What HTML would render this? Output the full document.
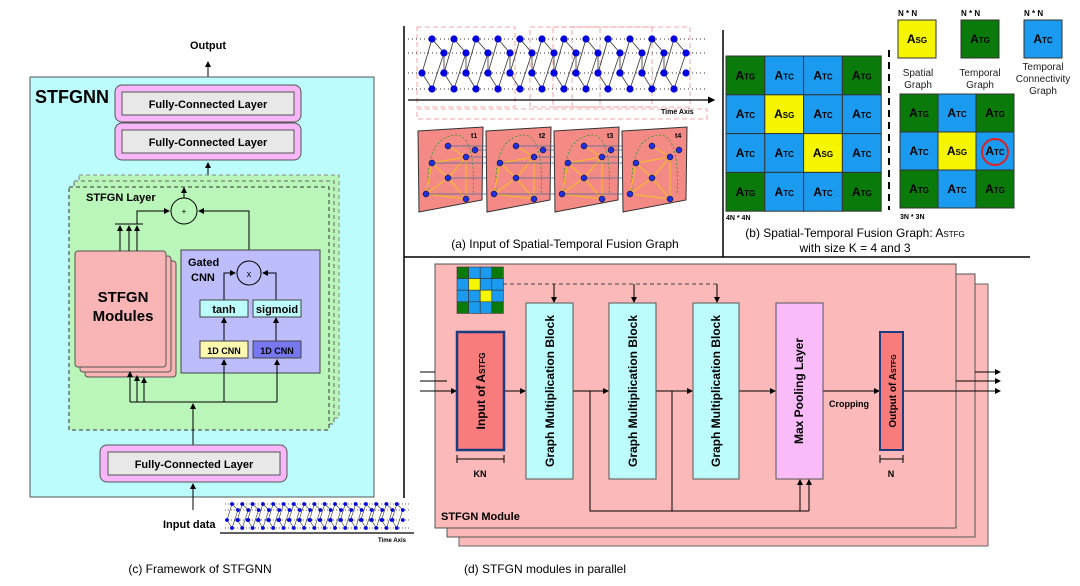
<!DOCTYPE html>
<html><head><meta charset="utf-8"><style>
body{margin:0;background:#fff}
svg{display:block;font-family:"Liberation Sans",sans-serif}
.b{font-weight:bold}
</style></head><body>
<svg id="s" width="1080" height="586" viewBox="0 0 1080 586" xmlns="http://www.w3.org/2000/svg">
<defs>
<marker id="a" markerWidth="6" markerHeight="6" refX="5" refY="3" orient="auto"><path d="M0,0 L6,3 L0,6 z" fill="#000"/></marker>
</defs>
<!-- ===== Panel c ===== -->
<text x="208" y="49" font-size="11" class="b" text-anchor="middle">Output</text>
<line x1="208" y1="77" x2="208" y2="62" stroke="#000" marker-end="url(#a)"/>
<rect x="30" y="77" width="344" height="420" fill="#bdfcfc" stroke="#555"/>
<text x="35" y="103" font-size="18" class="b">STFGNN</text>
<rect x="115" y="85" width="186" height="37" rx="7" fill="#f7b6f7" stroke="#555"/>
<rect x="122" y="92" width="172" height="23" fill="#e8e8e8" stroke="#555"/>
<text x="208" y="108" font-size="11" class="b" text-anchor="middle">Fully-Connected Layer</text>
<rect x="115" y="123" width="186" height="37" rx="7" fill="#f7b6f7" stroke="#555"/>
<rect x="122" y="130" width="172" height="23" fill="#e8e8e8" stroke="#555"/>
<text x="208" y="146" font-size="11" class="b" text-anchor="middle">Fully-Connected Layer</text>
<line x1="208" y1="176" x2="208" y2="163" stroke="#000" marker-end="url(#a)"/>
<rect x="79" y="175" width="260" height="243" fill="#baf5ba" stroke="#888" stroke-dasharray="4,3"/>
<rect x="74" y="181" width="260" height="243" fill="#baf5ba" stroke="#666" stroke-dasharray="4,3"/>
<rect x="69" y="187" width="260" height="243" fill="#baf5ba" stroke="#333" stroke-dasharray="4,3"/>
<text x="86" y="201" font-size="11" class="b">STFGN Layer</text>
<circle cx="184" cy="211" r="13" fill="none" stroke="#000"/>
<text x="184" y="214" font-size="8" text-anchor="middle">+</text>
<line x1="184" y1="198" x2="184" y2="188" stroke="#000" marker-end="url(#a)"/>
<rect x="85" y="261" width="91" height="116" rx="3" fill="#f9b5b5" stroke="#555"/>
<rect x="80" y="256" width="91" height="116" rx="3" fill="#f9b5b5" stroke="#555"/>
<rect x="75" y="251" width="91" height="116" rx="3" fill="#f9b5b5" stroke="#555"/>
<text x="123" y="302" font-size="15" class="b" text-anchor="middle">STFGN</text>
<text x="123" y="321" font-size="15" class="b" text-anchor="middle">Modules</text>
<g stroke="#000" fill="none">
<line x1="115" y1="224" x2="143" y2="224"/>
<line x1="120" y1="251" x2="120" y2="226" marker-end="url(#a)"/>
<line x1="129" y1="251" x2="129" y2="226" marker-end="url(#a)"/>
<line x1="137" y1="251" x2="137" y2="226" marker-end="url(#a)"/>
<polyline points="137,224 137,211 169,211" marker-end="url(#a)"/>
<polyline points="249,261 249,211 199,211" marker-end="url(#a)"/>
</g>
<rect x="181" y="250" width="139" height="123" fill="#bdbdfb" stroke="#444"/>
<text x="188" y="266" font-size="11" class="b">Gated</text>
<text x="191" y="281" font-size="11" class="b">CNN</text>
<circle cx="249" cy="273" r="12" fill="#bdbdfb" stroke="#000"/>
<text x="249" y="277" font-size="9" text-anchor="middle">x</text>
<g stroke="#000" fill="none">
<polyline points="224,300 224,273 235,273" marker-end="url(#a)"/>
<polyline points="276,300 276,273 263,273" marker-end="url(#a)"/>
<line x1="224" y1="341" x2="224" y2="318" marker-end="url(#a)"/>
<line x1="276" y1="341" x2="276" y2="318" marker-end="url(#a)"/>
</g>
<rect x="200" y="300" width="48" height="17" fill="#bdfcfc" stroke="#444"/>
<text x="224" y="313" font-size="11" class="b" text-anchor="middle">tanh</text>
<rect x="253" y="300" width="48" height="17" fill="#bdfcfc" stroke="#444"/>
<text x="277" y="313" font-size="11" class="b" text-anchor="middle">sigmoid</text>
<rect x="200" y="341" width="48" height="17" fill="#fdf8b0" stroke="#444"/>
<text x="224" y="354" font-size="9" class="b" text-anchor="middle">1D CNN</text>
<rect x="253" y="341" width="48" height="17" fill="#7777f0" stroke="#444"/>
<text x="277" y="354" font-size="9" class="b" text-anchor="middle">1D CNN</text>
<g stroke="#000" fill="none">
<polyline points="130,402 277,402"/>
<line x1="130" y1="402" x2="130" y2="372" marker-end="url(#a)"/>
<line x1="137" y1="402" x2="137" y2="376" marker-end="url(#a)"/>
<line x1="144" y1="402" x2="144" y2="378" marker-end="url(#a)"/>
<line x1="224" y1="402" x2="224" y2="360" marker-end="url(#a)"/>
<line x1="277" y1="402" x2="277" y2="360" marker-end="url(#a)"/>
<line x1="193" y1="445" x2="193" y2="404" marker-end="url(#a)"/>
<line x1="193" y1="510" x2="193" y2="484" marker-end="url(#a)"/>
</g>
<rect x="100" y="445" width="187" height="37" rx="7" fill="#f7b6f7" stroke="#555"/>
<rect x="108" y="452" width="172" height="23" fill="#e8e8e8" stroke="#555"/>
<text x="194" y="468" font-size="11" class="b" text-anchor="middle">Fully-Connected Layer</text>
<text x="163" y="528" font-size="11" class="b">Input data</text>
<g id="ts"></g>
<line x1="220" y1="533" x2="414" y2="533" stroke="#000" stroke-width="1.2"/>
<text x="378" y="542" font-size="6" class="b">Time Axis</text>
<text x="200" y="573" font-size="12" text-anchor="middle">(c) Framework of STFGNN</text>
<!-- separators -->
<line x1="404" y1="26" x2="404" y2="498" stroke="#000" stroke-width="1.5"/>
<line x1="404" y1="257" x2="1030" y2="257" stroke="#000" stroke-width="1.5"/>
<line x1="723" y1="30" x2="723" y2="257" stroke="#000" stroke-width="1.5"/>
<!-- ===== Panel a ===== -->
<g stroke="#f09090" fill="none" stroke-dasharray="5,3" stroke-width="0.8">
<rect x="417" y="27" width="98" height="80"/><rect x="530" y="27" width="160" height="80"/>
<rect x="553" y="27" width="47" height="80"/><rect x="572" y="27" width="80" height="80"/>
<rect x="417" y="109" width="290" height="10"/>
</g>
<g id="ta"></g>
<line x1="408" y1="100" x2="714" y2="100" stroke="#000" stroke-width="1.2" marker-end="url(#a)"/>
<text x="661" y="114" font-size="7" class="b">Time Axis</text>
<g id="fr"></g>
<text x="565" y="248" font-size="12" text-anchor="middle">(a) Input of Spatial-Temporal Fusion Graph</text>
<!-- ===== Panel b ===== -->
<g id="gb"></g>
<line x1="889" y1="50" x2="889" y2="210" stroke="#000" stroke-width="2" stroke-dasharray="7,5"/>
<circle cx="995" cy="152" r="13" fill="none" stroke="#e02020" stroke-width="2"/>
<text x="726" y="220" font-size="7" class="b">4N * 4N</text>
<text x="900" y="219" font-size="7" class="b">3N * 3N</text>
<text x="898" y="16" font-size="8" class="b">N * N</text>
<text x="961" y="16" font-size="8" class="b">N * N</text>
<text x="1024" y="16" font-size="8" class="b">N * N</text>
<text x="918" y="76" font-size="10" text-anchor="middle" fill="#222">Spatial</text>
<text x="918" y="88" font-size="10" text-anchor="middle" fill="#222">Graph</text>
<text x="980" y="76" font-size="10" text-anchor="middle" fill="#222">Temporal</text>
<text x="980" y="88" font-size="10" text-anchor="middle" fill="#222">Graph</text>
<text x="1043" y="70" font-size="10" text-anchor="middle" fill="#222">Temporal</text>
<text x="1043" y="82" font-size="10" text-anchor="middle" fill="#222">Connectivity</text>
<text x="1043" y="94" font-size="10" text-anchor="middle" fill="#222">Graph</text>
<text x="855" y="237" font-size="12" text-anchor="middle">(b) Spatial-Temporal Fusion Graph: A<tspan font-size="8">STFG</tspan></text>
<text x="855" y="252" font-size="12" text-anchor="middle">with size K = 4 and 3</text>
<!-- ===== Panel d ===== -->
<rect x="459" y="284" width="529" height="262" fill="#fcb9b9" stroke="#666"/>
<rect x="447" y="274" width="528" height="263" fill="#fcb9b9" stroke="#555"/>
<rect x="435" y="264" width="521" height="264" fill="#fcb9b9" stroke="#555"/>
<g id="gd"></g>
<g stroke="#000" fill="none">
<path d="M503,284 H717" stroke-dasharray="4,3" stroke="#444"/>
<line x1="554" y1="284" x2="554" y2="302" marker-end="url(#a)"/>
<line x1="634" y1="284" x2="634" y2="302" marker-end="url(#a)"/>
<line x1="717" y1="284" x2="717" y2="302" marker-end="url(#a)"/>
<line x1="420" y1="372" x2="435" y2="372"/><line x1="420" y1="381" x2="447" y2="381"/>
<line x1="420" y1="391" x2="456" y2="391" marker-end="url(#a)"/>
<line x1="504" y1="391" x2="525" y2="391" marker-end="url(#a)"/>
<line x1="573" y1="391" x2="608" y2="391" marker-end="url(#a)"/>
<line x1="656" y1="391" x2="692" y2="391" marker-end="url(#a)"/>
<line x1="739" y1="391" x2="775" y2="391" marker-end="url(#a)"/>
<line x1="823" y1="391" x2="879" y2="391" marker-end="url(#a)"/>
<polyline points="590,391 590,511 809,511"/>
<line x1="672" y1="391" x2="672" y2="511"/>
<line x1="800" y1="511" x2="800" y2="480" marker-end="url(#a)"/>
<line x1="809" y1="511" x2="809" y2="480" marker-end="url(#a)"/>
<line x1="903" y1="391" x2="1000" y2="391" marker-end="url(#a)"/>
<line x1="956" y1="381" x2="1000" y2="381" marker-end="url(#a)"/>
<line x1="975" y1="372" x2="1000" y2="372" marker-end="url(#a)"/>
<line x1="457" y1="459" x2="504" y2="459"/><line x1="457" y1="455" x2="457" y2="463"/><line x1="504" y1="455" x2="504" y2="463"/>
<line x1="880" y1="459" x2="903" y2="459"/><line x1="880" y1="455" x2="880" y2="463"/><line x1="903" y1="455" x2="903" y2="463"/>
</g>
<rect x="457" y="332" width="47" height="118" fill="#f87c7c" stroke="#1a3c80" stroke-width="2.5"/>
<rect x="880" y="332" width="23" height="118" fill="#f87c7c" stroke="#1a3c80" stroke-width="2"/>
<rect x="526" y="303" width="47" height="176" fill="#bdfcfc" stroke="#555"/>
<rect x="609" y="303" width="47" height="176" fill="#bdfcfc" stroke="#555"/>
<rect x="693" y="303" width="46" height="176" fill="#bdfcfc" stroke="#555"/>
<rect x="776" y="303" width="47" height="176" fill="#f9bcf9" stroke="#555"/>
<g font-size="12" class="b" text-anchor="middle">
<text transform="translate(485,391) rotate(-90)">Input of A<tspan font-size="8">STFG</tspan></text>
<text transform="translate(554,391) rotate(-90)">Graph Multiplication Block</text>
<text transform="translate(637,391) rotate(-90)">Graph Multiplication Block</text>
<text transform="translate(720,391) rotate(-90)">Graph Multiplication Block</text>
<text transform="translate(803,391) rotate(-90)">Max Pooling Layer</text>
<text transform="translate(896,391) rotate(-90)" font-size="10">Output of A<tspan font-size="7">STFG</tspan></text>
</g>
<text x="849" y="407" font-size="9" class="b" text-anchor="middle">Cropping</text>
<text x="480" y="477" font-size="9" class="b" text-anchor="middle">KN</text>
<text x="891" y="477" font-size="9" class="b" text-anchor="middle">N</text>
<text x="441" y="520" font-size="11" class="b">STFGN Module</text>
<text x="545" y="573" font-size="12" text-anchor="middle">(d) STFGN modules in parallel</text>
</svg>
<script>
var NS="http://www.w3.org/2000/svg";
function el(p,t,a){var e=document.createElementNS(NS,t);for(var k in a)e.setAttribute(k,a[k]);p.appendChild(e);return e;}
var G="#0a7a0a",B="#1a9bf0",Y="#f5f500";
function grid(p,x,y,c,m,lab){for(var i=0;i<m.length;i++)for(var j=0;j<m[i].length;j++){var v=m[i][j];var f=v=="G"?G:v=="Y"?Y:B;el(p,"rect",{x:x+j*c,y:y+i*c,width:c,height:c,fill:f,stroke:"#333","stroke-width":lab?1:0.6});if(lab){var t=el(p,"text",{x:x+j*c+c/2,y:y+i*c+c/2+4,"font-size":12,"font-weight":"bold","text-anchor":"middle"});t.textContent="A";var s=el(t,"tspan",{"font-size":8});s.textContent=v=="G"?"TG":v=="Y"?"SG":"TC";}}}
var gb=document.getElementById("gb");
grid(gb,726,56,38.8,["GBBG","BYBB","BBYB","GBBG"],1);
grid(gb,900,94,38,["GBG","BYB","GBG"],1);
grid(gb,898,20,38,["Y"],1);grid(gb,961,20,38,["G"],1);grid(gb,1024,20,38,["B"],1);
grid(document.getElementById("gd"),457,267,11.6,["GBBG","BYBB","BBYB","GBBG"],0);
// panel a top
var ta=document.getElementById("ta");var ys=[39,53,73,89];
ys.forEach(function(y){el(ta,"line",{x1:408,y1:y,x2:705,y2:y,stroke:"#333","stroke-dasharray":"1,3"});});
for(var k=0;k<12;k++){var x0=432+k*22;var pts=[[x0,39],[x0+12,53],[x0-10,73],[x0,89]];
el(ta,"polyline",{points:[[x0,39],[x0+12,53],[x0,89],[x0-10,73],[x0,39]].map(function(p){return p.join(",")}).join(" "),fill:"none",stroke:"#333","stroke-width":0.8});
if(k<11)el(ta,"line",{x1:x0+12,y1:53,x2:x0+12,y2:73,stroke:"#333","stroke-width":0.8});
pts.concat([[x0+12,73]]).forEach(function(p){el(ta,"circle",{cx:p[0],cy:p[1],r:3.6,fill:"#0000e0"});});}
// frames
var fr=document.getElementById("fr");
for(var f=0;f<4;f++){var x=418+f*68;
el(fr,"polygon",{points:(x)+",131 "+(x+65)+",127 "+(x+64)+",200 "+(x+1)+",212",fill:"#f38a85",stroke:"#333"});
el(fr,"path",{d:"M"+(x+10)+",190 Q"+(x+8)+",135 "+(x+40)+",135 Q"+(x+58)+",140 "+(x+55)+",195",fill:"none",stroke:"#2a9a2a","stroke-dasharray":"2,2","stroke-width":0.8});
var n=[[x+30,146],[x+57,150],[x+48,157],[x+14,163],[x+30,178],[x+8,194],[x+48,199]];
[[0,2],[2,3],[3,4],[4,2],[4,5],[5,6],[3,5],[2,6],[4,6]].forEach(function(e){el(fr,"line",{x1:n[e[0]][0],y1:n[e[0]][1],x2:n[e[1]][0],y2:n[e[1]][1],stroke:"#f5c020","stroke-width":1});});
if(f<3)[146,150,157,163,178,194].forEach(function(y,i){el(fr,"line",{x1:n[i][0],y1:y,x2:n[i][0]+68,y2:y,stroke:"#4a6a9a","stroke-width":0.8});});
n.forEach(function(p){el(fr,"circle",{cx:p[0],cy:p[1],r:3,fill:"#2030e0",stroke:"#000","stroke-width":0.5});});
var t=el(fr,"text",{x:x+53,y:138,"font-size":7,"font-weight":"bold"});t.textContent="t"+(f+1);}
// small time series
var ts=document.getElementById("ts");var y2=[504,510,520,528];
y2.forEach(function(y){el(ts,"line",{x1:225,y1:y,x2:410,y2:y,stroke:"#333","stroke-dasharray":"1,2","stroke-width":0.7});});
for(var k=0;k<17;k++){var x0=232+k*10.3;
el(ts,"polyline",{points:x0+",504 "+(x0+6)+",510 "+x0+",528 "+(x0-5)+",520 "+x0+",504",fill:"none",stroke:"#333","stroke-width":0.6});
[[x0,504],[x0+6,510],[x0-5,520],[x0,528],[x0+6,520]].forEach(function(p){el(ts,"circle",{cx:p[0],cy:p[1],r:1.9,fill:"#0000e0"});});}
</script>
</body></html>
